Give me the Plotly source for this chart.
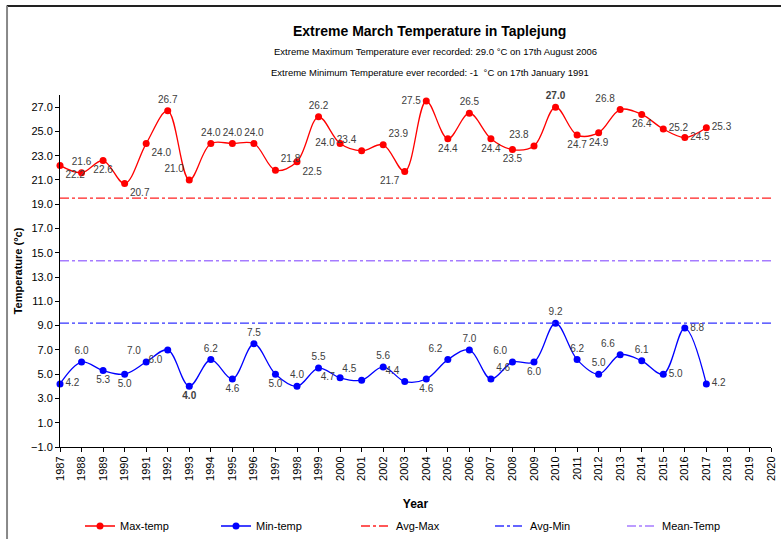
import plotly.graph_objects as go

years = list(range(1987, 2018))
max_temp = [22.2, 21.6, 22.6, 20.7, 24.0, 26.7, 21.0, 24.0, 24.0, 24.0, 21.8, 22.5, 26.2, 24.0, 23.4, 23.9,
            21.7, 27.5, 24.4, 26.5, 24.4, 23.5, 23.8, 27.0, 24.7, 24.9, 26.8, 26.4, 25.2, 24.5, 25.3]
min_temp = [4.2, 6.0, 5.3, 5.0, 6.0, 7.0, 4.0, 6.2, 4.6, 7.5, 5.0, 4.0, 5.5, 4.7, 4.5, 5.6,
            4.4, 4.6, 6.2, 7.0, 4.6, 6.0, 6.0, 9.2, 6.2, 5.0, 6.6, 6.1, 5.0, 8.8, 4.2]
# data labels as displayed in the reference (1991/1992 labels appear swapped there)
min_labels = ["4.2", "6.0", "5.3", "5.0", "7.0", "6.0", "<b>4.0</b>", "6.2", "4.6", "7.5", "5.0", "4.0", "5.5",
              "4.7", "4.5", "5.6", "4.4", "4.6", "6.2", "7.0", "4.6", "6.0", "6.0", "9.2", "6.2", "5.0",
              "6.6", "6.1", "5.0", "8.8", "4.2"]
max_labels = ["22.2", "21.6", "22.6", "20.7", "24.0", "26.7", "21.0", "24.0", "24.0", "24.0", "21.8", "22.5",
              "26.2", "24.0", "23.4", "23.9", "21.7", "27.5", "24.4", "26.5", "24.4", "23.5", "23.8",
              "<b>27.0</b>", "24.7", "24.9", "26.8", "26.4", "25.2", "24.5", "25.3"]
avg_max = 19.5
avg_min = 9.2
mean_temp = 14.35
line_years = [1987, 2020]

max_pos = ["bottom right", "top center", "bottom center", "bottom right", "bottom right", "top center",
           "top left", "top center", "top center", "top center", "top right", "bottom right", "top center",
           "middle left", "top left", "top right", "bottom left", "middle left", "bottom center",
           "top center", "bottom center", "bottom center", "top left", "top center", "bottom center",
           "bottom center", "top left", "bottom center", "middle right", "middle right", "middle right"]
min_pos = ["middle right", "top center", "bottom center", "bottom center", "top left", "bottom left",
           "bottom center", "top center", "bottom center", "top center", "bottom center", "top center",
           "top center", "middle left", "top left", "top center", "top left", "bottom center", "top left",
           "top center", "top right", "top left", "bottom center", "top center", "top center", "top center",
           "top left", "top center", "middle right", "middle right", "middle right"]

lab_font = dict(family="Liberation Sans, Arial, sans-serif", size=10, color="#404040")

fig = go.Figure()
fig.add_trace(go.Scatter(x=years, y=max_temp, name="Max-temp", mode="lines+markers+text",
                         line=dict(color="#ff0000", width=1.3, shape="spline", smoothing=1),
                         marker=dict(color="#ff0000", size=7), text=max_labels,
                         textposition=max_pos, textfont=lab_font, cliponaxis=False, legend="legend"))
fig.add_trace(go.Scatter(x=years, y=min_temp, name="Min-temp", mode="lines+markers+text",
                         line=dict(color="#0000ff", width=1.3, shape="spline", smoothing=1),
                         marker=dict(color="#0000ff", size=7), text=min_labels,
                         textposition=min_pos, textfont=lab_font, cliponaxis=False, legend="legend2"))
fig.add_trace(go.Scatter(x=line_years, y=[avg_max, avg_max], name="Avg-Max", mode="lines",
                         line=dict(color="#ff2020", width=1.3, dash="dashdot"), legend="legend3"))
fig.add_trace(go.Scatter(x=line_years, y=[avg_min, avg_min], name="Avg-Min", mode="lines",
                         line=dict(color="#3333ff", width=1.3, dash="dashdot"), legend="legend4"))
fig.add_trace(go.Scatter(x=line_years, y=[mean_temp, mean_temp], name="Mean-Temp", mode="lines",
                         line=dict(color="#a67cff", width=1.6, dash="dashdot"), legend="legend5"))

axis_font = dict(family="Liberation Sans, Arial, sans-serif", size=11, color="#000000")


def leg(px):
    return dict(orientation="h", xref="container", yref="container", x=px / 781, xanchor="left",
                y=13 / 539, yanchor="middle", font=dict(size=11), bgcolor="rgba(0,0,0,0)")


fig.update_layout(
    width=781, height=539,
    margin=dict(l=60, r=10, t=95, b=92, autoexpand=False),
    paper_bgcolor="white", plot_bgcolor="white",
    font=dict(family="Liberation Sans, Arial, sans-serif", size=11, color="#000000"),
    showlegend=True,
    legend=leg(80), legend2=leg(216), legend3=leg(356), legend4=leg(490), legend5=leg(622),
    xaxis=dict(range=[1987, 2020], tickmode="linear", tick0=1987, dtick=1, tickangle=-90,
               showgrid=False, zeroline=False, showline=True, linecolor="black", linewidth=1,
               ticks="outside", ticklen=4, tickcolor="black", tickfont=axis_font,
               title=dict(text="<b>Year</b>", font=dict(size=12), standoff=25)),
    yaxis=dict(range=[-1, 28], tickmode="linear", tick0=-1, dtick=2, tickformat=".1f",
               showgrid=False, zeroline=False, showline=True, linecolor="black", linewidth=1,
               ticks="outside", ticklen=4, tickcolor="black", tickfont=axis_font,
               title=dict(text="<b>Temperature (°c)</b>", font=dict(size=11), standoff=6)),
    shapes=[
        dict(type="line", xref="paper", yref="paper", x0=-0.075, x1=1.02, y0=1.253, y1=1.253,
             line=dict(color="#222222", width=2)),
        dict(type="line", xref="paper", yref="paper", x0=-0.0745, x1=-0.0745, y0=1.253, y1=-0.3,
             line=dict(color="#888888", width=2)),
    ],
    annotations=[
        dict(text="<b>Extreme March Temperature in Taplejung</b>", xref="paper", yref="paper",
             x=0.52, y=1.183, xanchor="center", yanchor="middle", showarrow=False,
             font=dict(size=14)),
        dict(text="Extreme Maximum Temperature ever recorded: 29.0 °C on 17th August 2006", xref="paper",
             yref="paper", x=0.528, y=1.124, xanchor="center", yanchor="middle", showarrow=False,
             font=dict(size=9.5)),
        dict(text="Extreme Minimum Temperature ever recorded: -1  °C on 17th January 1991", xref="paper",
             yref="paper", x=0.52, y=1.063, xanchor="center", yanchor="middle", showarrow=False,
             font=dict(size=9.5)),
    ],
)

fig.write_html("out.html", config={"displayModeBar": False},
               post_script="document.body.style.margin='0';document.body.style.overflow='hidden';")
